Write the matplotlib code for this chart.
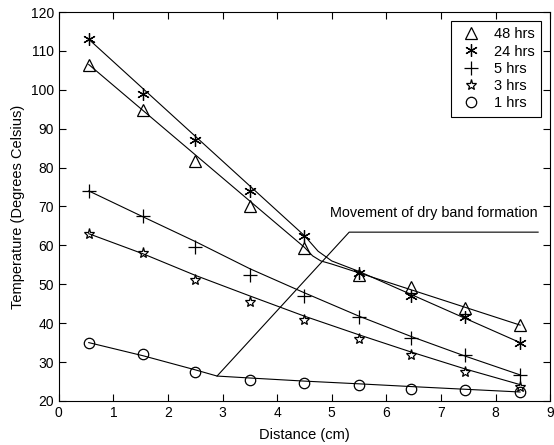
import matplotlib
matplotlib.use("Agg")
import matplotlib.pyplot as plt

plt.rcParams['font.family'] = ['Liberation Sans', 'DejaVu Sans']

distance = [0.55, 1.55, 2.5, 3.5, 4.5, 5.5, 6.45, 7.45, 8.45]
t48 = [106.5, 94.7, 81.7, 70.0, 59.2, 52.5, 49.3, 44.0, 39.5]
t24 = [113.0, 99.0, 87.0, 74.0, 62.5, 53.0, 47.0, 41.5, 35.0]
t5 = [74.0, 67.5, 59.5, 52.5, 47.0, 41.5, 36.3, 31.7, 26.7]
t3 = [63.0, 58.0, 51.0, 45.5, 40.8, 35.8, 31.8, 27.5, 23.6]
t1 = [35.0, 32.0, 27.5, 25.5, 24.5, 24.0, 23.0, 22.8, 22.2]

# fitted curves
fit48_x = [0.55, 4.5, 4.65, 4.8, 5.0, 8.45]
fit48_y = [106.5, 59.5, 57.3, 56.0, 55.2, 39.5]
fit24_x = [0.55, 4.5, 4.75, 5.0, 5.5, 8.45]
fit24_y = [113.0, 62.5, 58.5, 56.0, 53.3, 35.0]
fit5_x = [0.55, 1.55, 2.5, 3.5, 4.5, 5.5, 6.45, 7.45, 8.45]
fit5_y = [74.0, 67.3, 61.0, 54.0, 47.8, 41.8, 36.6, 31.5, 26.7]
fit3_x = [0.55, 1.55, 2.5, 3.5, 4.5, 5.5, 6.45, 7.45, 8.45]
fit3_y = [63.0, 57.8, 52.3, 47.0, 41.8, 37.0, 32.6, 28.2, 24.2]
fit1_x = [0.55, 1.55, 2.5, 2.9, 3.5, 4.5, 5.5, 6.45, 7.45, 8.45]
fit1_y = [35.0, 31.6, 28.0, 26.4, 25.9, 25.1, 24.4, 23.7, 23.0, 22.3]

band_x = [2.9, 5.32, 8.78]
band_y = [26.4, 63.4, 63.4]

labels = ['48 hrs', '24 hrs', '5 hrs', '3 hrs', '1 hrs']

fig = plt.figure(figsize=(5.54, 4.45), dpi=100)
ax = fig.add_axes([0.106, 0.099, 0.887, 0.874])

lw = 0.8
for fx, fy in [(fit48_x, fit48_y), (fit24_x, fit24_y), (fit5_x, fit5_y),
               (fit3_x, fit3_y), (fit1_x, fit1_y)]:
    ax.plot(fx, fy, color='black', lw=lw)
ax.plot(band_x, band_y, color='black', lw=lw)

mk = dict(color='black', linestyle='none', mfc='none', mec='black', mew=0.9)
ax.plot(distance, t48, marker='^', ms=9, label=labels[0], **mk)
ax.plot(distance, t24, marker=(6, 2, 0), ms=9, label=labels[1], **mk)
ax.plot(distance, t5, marker='+', ms=10, label=labels[2], **mk)
ax.plot(distance, t3, marker='*', ms=8, label=labels[3], **mk)
ax.plot(distance, t1, marker='o', ms=7.5, label=labels[4], **mk)

ax.text(8.78, 66.4, 'Movement of dry band formation', ha='right', va='bottom',
        fontsize=10.4)

ax.set_xlim(0, 9)
ax.set_ylim(20, 120)
ax.set_xticks(range(0, 10))
ax.set_yticks(range(20, 121, 10))
ax.tick_params(direction='in', top=True, right=True, labelsize=10, length=5,
               width=0.8)
for s in ax.spines.values():
    s.set_linewidth(0.8)

ax.set_xlabel('Distance (cm)', fontsize=10.5, labelpad=6)
ax.set_ylabel('Temperature (Degrees Celsius)', fontsize=10.5, labelpad=4)

leg = ax.legend(loc='upper right', fontsize=10.5, frameon=True, fancybox=False,
                edgecolor='black', framealpha=1, handlelength=1.8,
                handletextpad=0.7, borderpad=0.45, labelspacing=0.22,
                bbox_to_anchor=(1.0, 1.0), borderaxespad=0.6)
leg.get_frame().set_linewidth(0.8)

fig.savefig('out.png', dpi=100)
